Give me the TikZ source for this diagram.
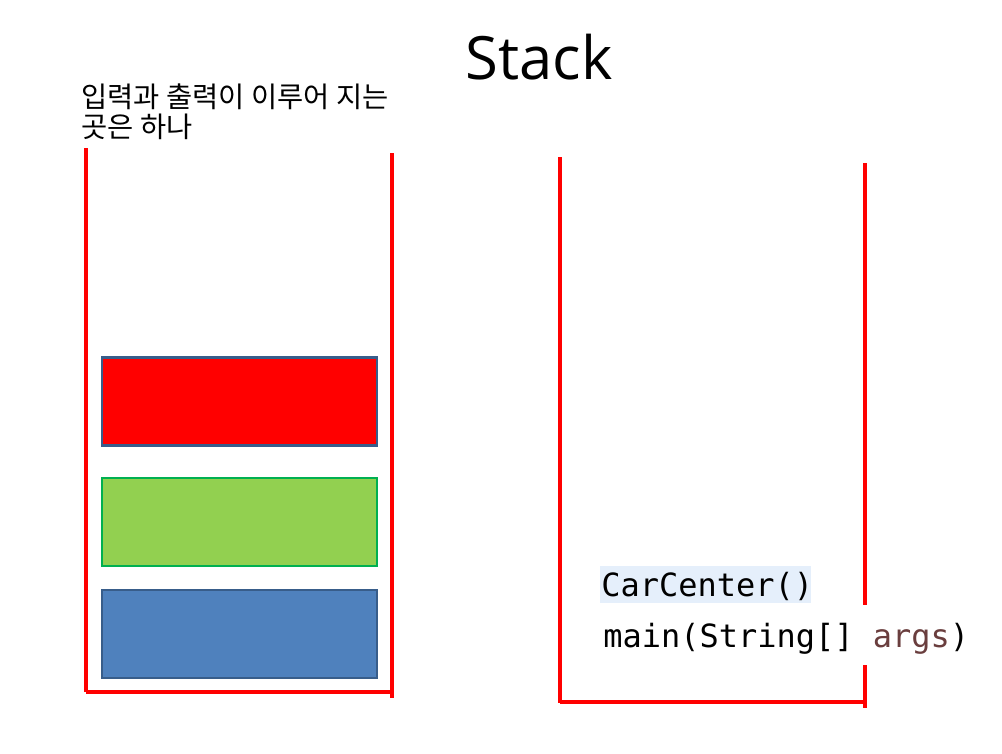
\documentclass[tikz,border=0pt]{standalone}
\usepackage{fontspec}
\setmainfont{Open Sans}
\setmonofont{DejaVu Sans Mono}
\newfontfamily\krfont{Noto Sans CJK KR}
\usetikzlibrary{positioning}
\definecolor{StackRed}{HTML}{FF0000}
\definecolor{BoxEdge}{HTML}{385D8A}
\definecolor{BoxGreen}{HTML}{92D050}
\definecolor{GreenEdge}{HTML}{00B050}
\definecolor{BoxBlue}{HTML}{4F81BD}
\definecolor{CodeHi}{HTML}{E5EFFB}
\definecolor{ArgBrown}{HTML}{6A3E3E}

\begin{document}
\begin{tikzpicture}[x=0.02cm,y=-0.02cm,
    wall/.style={StackRed,line width=2.2pt},
    frame/.style={rectangle,draw,line width=1.6pt,minimum width=5.5cm,minimum height=1.76cm,inner sep=0pt},
    code/.style={font=\ttfamily\fontsize{18.2}{20}\selectfont,inner sep=0pt}]
  \useasboundingbox (0,0) rectangle (1002,754);
  % title and note
  \node[anchor=base,font=\fontsize{34}{38}\selectfont] (title) at (539,79) {Stack};
  \node[anchor=north west,align=left,inner sep=0pt,
        font=\krfont\fontsize{16.2}{17.6}\selectfont] (note) at (81,83)
    {입력과 출력이 이루어 지는\\곳은 하나};
  % left stack
  \draw[wall] (86,148) -- (86,692);
  \draw[wall] (86,692) -- (392,692);
  \draw[wall] (392,153) -- (392,698);
  \node[frame,fill=StackRed,draw=BoxEdge] (top) at (239.5,401.5) {};
  \node[frame,fill=BoxGreen,draw=GreenEdge] (mid) at (239.5,522) {};
  \node[frame,fill=BoxBlue,draw=BoxEdge] (low) at (239.5,634) {};
  % right stack
  \draw[wall] (560,157) -- (560,703);
  \draw[wall] (560,702) -- (865,702);
  \draw[wall] (865,163) -- (865,708);
  % pasted code lines
  \fill[white] (597,605) rectangle (958,665);
  \fill[CodeHi] (600,566) rectangle (811,603);
  \node[code,anchor=base west] (frameA) at (601,596) {CarCenter()};
  \node[code,anchor=base west] (frameB) at (603,647) {main(String[] \textcolor{ArgBrown}{args})};
\end{tikzpicture}
\end{document}
